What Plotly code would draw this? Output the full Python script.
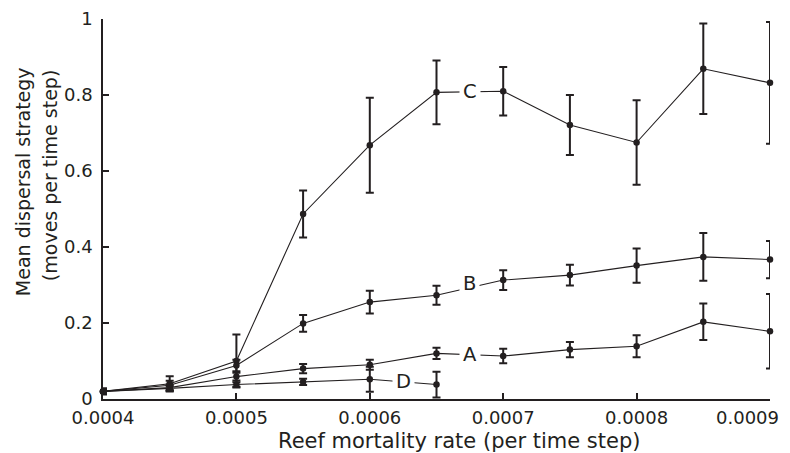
import plotly.graph_objects as go

# ---- data ----
mortality = [0.0004, 0.00045, 0.0005, 0.00055, 0.0006, 0.00065,
             0.0007, 0.00075, 0.0008, 0.00085, 0.0009]

series_C = [0.02, 0.04, 0.10, 0.487, 0.668, 0.807, 0.81, 0.721, 0.675, 0.869, 0.832]
err_C = [0.008, 0.02, 0.07, 0.062, 0.125, 0.084, 0.064, 0.079, 0.111, 0.119, 0.16]

series_B = [0.02, 0.036, 0.088, 0.199, 0.255, 0.273, 0.313, 0.326, 0.351, 0.374, 0.367]
err_B = [0.006, 0.012, 0.015, 0.022, 0.03, 0.025, 0.026, 0.027, 0.045, 0.063, 0.049]

series_A = [0.02, 0.03, 0.059, 0.08, 0.09, 0.12, 0.113, 0.13, 0.139, 0.203, 0.178]
err_A = [0.005, 0.008, 0.01, 0.012, 0.013, 0.015, 0.019, 0.02, 0.029, 0.048, 0.098]

series_D = [0.02, 0.028, 0.038, 0.045, 0.052, 0.038]
err_D = [0.005, 0.006, 0.006, 0.008, 0.033, 0.034]

x_ticks = [0.0004, 0.0005, 0.0006, 0.0007, 0.0008, 0.0009]
x_tick_labels = ["0.0004", "0.0005", "0.0006", "0.0007", "0.0008", "0.0009"]
y_ticks = [0, 0.2, 0.4, 0.6, 0.8, 1]
y_tick_labels = ["0", "0.2", "0.4", "0.6", "0.8", "1"]

x_title = "Reef mortality rate (per time step)"
y_title_lines = ["Mean dispersal strategy", "(moves per time step)"]

# label name, series, index of segment start, vertical nudge (px)
labels = [("C", series_C, 5, 0), ("B", series_B, 5, 4),
          ("A", series_A, 5, 0), ("D", series_D, 4, 0)]

INK = "#231f20"
FONT = "DejaVu Sans, Arial, Helvetica, sans-serif"

fig = go.Figure()
for name, vals, errs in [("C", series_C, err_C), ("B", series_B, err_B),
                         ("A", series_A, err_A), ("D", series_D, err_D)]:
    fig.add_trace(go.Scatter(
        x=mortality[:len(vals)], y=vals, name=name, mode="lines+markers",
        line=dict(color=INK, width=1.1),
        marker=dict(color=INK, size=6.5, symbol="circle"),
        error_y=dict(type="data", array=errs, visible=True,
                     color=INK, thickness=2, width=4),
        cliponaxis=False, showlegend=False,
    ))

for name, vals, i, nudge in labels:
    xm = (mortality[i] + mortality[i + 1]) / 2
    ym = (vals[i] + vals[i + 1]) / 2
    fig.add_annotation(x=xm, y=ym, text=name, showarrow=False,
                       font=dict(family=FONT, size=19.5, color=INK),
                       bgcolor="white", borderpad=3, yshift=nudge)

fig.add_annotation(xref="paper", yref="paper", x=0.534, y=-0.1105,
                   xanchor="center", yanchor="middle",
                   text=x_title, showarrow=False,
                   font=dict(family=FONT, size=21, color=INK))
for line, px, py in zip(y_title_lines, [-0.1207, -0.0795], [0.572, 0.589]):
    fig.add_annotation(xref="paper", yref="paper", x=px, y=py,
                       xanchor="center", yanchor="middle",
                       text=line, textangle=-90, showarrow=False,
                       font=dict(family=FONT, size=19, color=INK))

# last x tick label is pulled in so it stays inside the page (as in the reference)
fig.add_annotation(x=x_ticks[-1], xref="x", y=0, yref="paper",
                   xanchor="right", yanchor="middle", xshift=11, yshift=-18,
                   text=x_tick_labels[-1], showarrow=False,
                   font=dict(family=FONT, size=18, color=INK))

fig.update_xaxes(range=[0.0004, 0.0009], tickvals=x_ticks,
                 ticktext=x_tick_labels[:-1] + [""],
                 showline=True, linecolor=INK, linewidth=1.5, ticks="inside",
                 ticklen=6, tickcolor=INK, tickwidth=1.5, showgrid=False,
                 zeroline=False, automargin=False, ticklabelstandoff=2,
                 tickfont=dict(family=FONT, size=18, color=INK))
fig.update_yaxes(range=[0, 1], tickvals=y_ticks, ticktext=y_tick_labels,
                 showline=True, linecolor=INK, linewidth=1.5, ticks="inside",
                 ticklen=6, tickcolor=INK, tickwidth=1.5, showgrid=False,
                 zeroline=False, automargin=False, ticklabelstandoff=5,
                 ticklabeloverflow="allow",
                 tickfont=dict(family=FONT, size=18, color=INK))

# the page body adds an 8 px margin, so the figure is sized/offset to compensate
fig.update_layout(width=782, height=445, plot_bgcolor="white", paper_bgcolor="white",
                  margin=dict(l=95, r=20, t=11, b=54), showlegend=False)

fig.write_html("out.html")
